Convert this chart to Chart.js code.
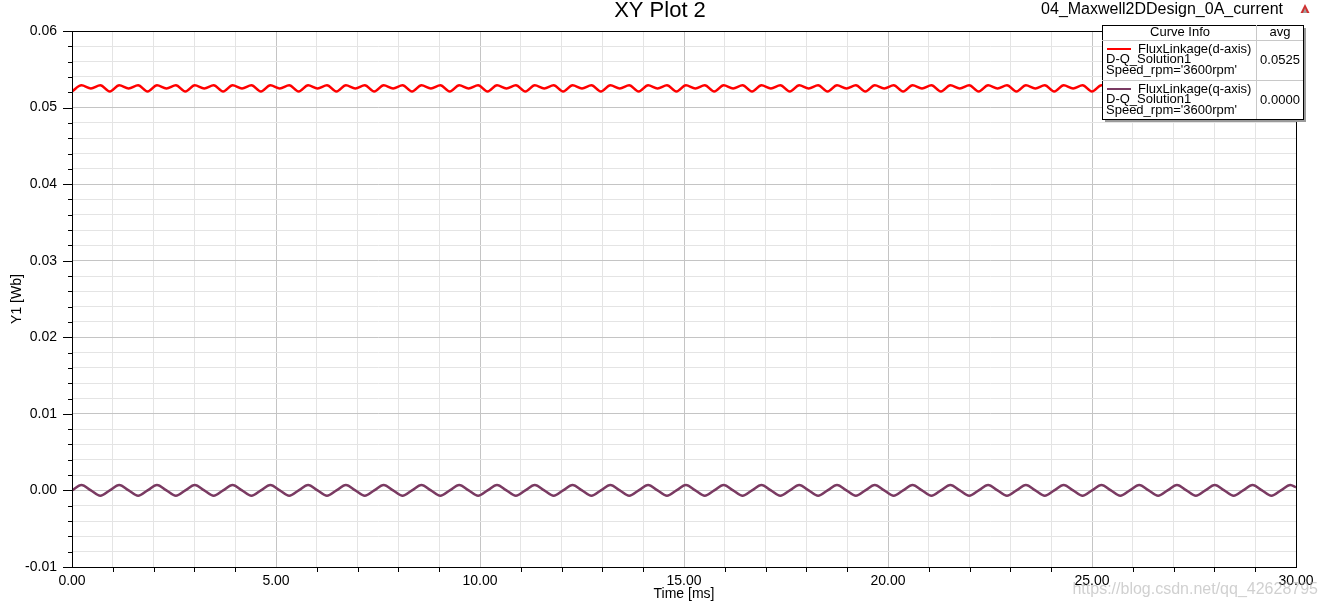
<!DOCTYPE html>
<html><head><meta charset="utf-8">
<script src="https://cdn.jsdelivr.net/npm/chart.js@4.4.0/dist/chart.umd.min.js"></script>
<style>html,body{margin:0;padding:0;background:#fff;overflow:hidden}</style>
</head><body>
<canvas id="c" width="1324" height="607"></canvas>
<script>
// ---- data ----
const timeMs = [
  0, 0.2315, 0.4630, 0.6944,
  0.9259, 1.1574, 1.3889, 1.6204,
  1.8519, 2.0833, 2.3148, 2.5463,
  2.7778, 3.0093, 3.2407, 3.4722,
  3.7037, 3.9352, 4.1667, 4.3981,
  4.6296, 4.8611, 5.0926, 5.3241,
  5.5556, 5.7870, 6.0185, 6.2500,
  6.4815, 6.7130, 6.9444, 7.1759,
  7.4074, 7.6389, 7.8704, 8.1019,
  8.3333, 8.5648, 8.7963, 9.0278,
  9.2593, 9.4907, 9.7222, 9.9537,
  10.1852, 10.4167, 10.6481, 10.8796,
  11.1111, 11.3426, 11.5741, 11.8056,
  12.0370, 12.2685, 12.5000, 12.7315,
  12.9630, 13.1944, 13.4259, 13.6574,
  13.8889, 14.1204, 14.3519, 14.5833,
  14.8148, 15.0463, 15.2778, 15.5093,
  15.7407, 15.9722, 16.2037, 16.4352,
  16.6667, 16.8981, 17.1296, 17.3611,
  17.5926, 17.8241, 18.0556, 18.2870,
  18.5185, 18.7500, 18.9815, 19.2130,
  19.4444, 19.6759, 19.9074, 20.1389,
  20.3704, 20.6019, 20.8333, 21.0648,
  21.2963, 21.5278, 21.7593, 21.9907,
  22.2222, 22.4537, 22.6852, 22.9167,
  23.1481, 23.3796, 23.6111, 23.8426,
  24.0741, 24.3056, 24.5370, 24.7685,
  25.0000, 25.2315, 25.4630, 25.6944,
  25.9259, 26.1574, 26.3889, 26.6204,
  26.8519, 27.0833, 27.3148, 27.5463,
  27.7778, 28.0093, 28.2407, 28.4722,
  28.7037, 28.9352, 29.1667, 29.3981,
  29.6296, 29.8611, 30.0000
];
const fluxD = [
  0.0521, 0.0529, 0.0525, 0.0529,
  0.0521, 0.0529, 0.0525, 0.0529,
  0.0521, 0.0529, 0.0525, 0.0529,
  0.0521, 0.0529, 0.0525, 0.0529,
  0.0521, 0.0529, 0.0525, 0.0529,
  0.0521, 0.0529, 0.0525, 0.0529,
  0.0521, 0.0529, 0.0525, 0.0529,
  0.0521, 0.0529, 0.0525, 0.0529,
  0.0521, 0.0529, 0.0525, 0.0529,
  0.0521, 0.0529, 0.0525, 0.0529,
  0.0521, 0.0529, 0.0525, 0.0529,
  0.0521, 0.0529, 0.0525, 0.0529,
  0.0521, 0.0529, 0.0525, 0.0529,
  0.0521, 0.0529, 0.0525, 0.0529,
  0.0521, 0.0529, 0.0525, 0.0529,
  0.0521, 0.0529, 0.0525, 0.0529,
  0.0521, 0.0529, 0.0525, 0.0529,
  0.0521, 0.0529, 0.0525, 0.0529,
  0.0521, 0.0529, 0.0525, 0.0529,
  0.0521, 0.0529, 0.0525, 0.0529,
  0.0521, 0.0529, 0.0525, 0.0529,
  0.0521, 0.0529, 0.0525, 0.0529,
  0.0521, 0.0529, 0.0525, 0.0529,
  0.0521, 0.0529, 0.0525, 0.0529,
  0.0521, 0.0529, 0.0525, 0.0529,
  0.0521, 0.0529, 0.0525, 0.0529,
  0.0521, 0.0529, 0.0525, 0.0529,
  0.0521, 0.0529, 0.0525, 0.0529,
  0.0521, 0.0529, 0.0525, 0.0529,
  0.0521, 0.0529, 0.0525, 0.0529,
  0.0521, 0.0529, 0.0525, 0.0529,
  0.0521, 0.0529, 0.0525, 0.0529,
  0.0521, 0.0529, 0.0527
];
const fluxQ = [
  0, 0.0007, 0, -0.0007,
  0, 0.0007, 0, -0.0007,
  0, 0.0007, 0, -0.0007,
  0, 0.0007, 0, -0.0007,
  0, 0.0007, 0, -0.0007,
  0, 0.0007, 0, -0.0007,
  0, 0.0007, 0, -0.0007,
  0, 0.0007, 0, -0.0007,
  0, 0.0007, 0, -0.0007,
  0, 0.0007, 0, -0.0007,
  0, 0.0007, 0, -0.0007,
  0, 0.0007, 0, -0.0007,
  0, 0.0007, 0, -0.0007,
  0, 0.0007, 0, -0.0007,
  0, 0.0007, 0, -0.0007,
  0, 0.0007, 0, -0.0007,
  0, 0.0007, 0, -0.0007,
  0, 0.0007, 0, -0.0007,
  0, 0.0007, 0, -0.0007,
  0, 0.0007, 0, -0.0007,
  0, 0.0007, 0, -0.0007,
  0, 0.0007, 0, -0.0007,
  0, 0.0007, 0, -0.0007,
  0, 0.0007, 0, -0.0007,
  0, 0.0007, 0, -0.0007,
  0, 0.0007, 0, -0.0007,
  0, 0.0007, 0, -0.0007,
  0, 0.0007, 0, -0.0007,
  0, 0.0007, 0, -0.0007,
  0, 0.0007, 0, -0.0007,
  0, 0.0007, 0, -0.0007,
  0, 0.0007, 0, -0.0007,
  0, 0.0007, 0.0004
];
const seriesNames = ['FluxLinkage(d-axis)', 'FluxLinkage(q-axis)'];
const seriesSolution = ['D-Q_Solution1', 'D-Q_Solution1'];
const seriesSpeed = ["Speed_rpm='3600rpm'", "Speed_rpm='3600rpm'"];
const seriesAvg = ['0.0525', '0.0000'];
const seriesColors = ['#ff0000', '#7a3a62'];
const xMajorTicks = [0, 5, 10, 15, 20, 25, 30];
const yMajorTicks = [-0.01, 0, 0.01, 0.02, 0.03, 0.04, 0.05, 0.06];
const chartTitle = 'XY Plot 2';
const designName = '04_Maxwell2DDesign_0A_current';
const xTitle = 'Time [ms]';
const yTitle = 'Y1 [Wb]';
const watermark = 'https://blog.csdn.net/qq_42628795';

const FONT = "'Liberation Sans', Arial, sans-serif";
const isMajorX = v => xMajorTicks.some(m => Math.abs(m - v) < 1e-6);
const isMajorY = v => yMajorTicks.some(m => Math.abs(m - v) < 1e-7);

const overlay = {
  id: 'overlay',
  afterDraw(chart) {
    const ctx = chart.ctx, a = chart.chartArea;
    const xs = chart.scales.x, ys = chart.scales.y;
    ctx.save();
    // frame
    ctx.strokeStyle = '#000'; ctx.lineWidth = 1;
    ctx.strokeRect(Math.round(a.left) + 0.5, Math.round(a.top) + 0.5, Math.round(a.right - a.left), Math.round(a.bottom - a.top));
    // tick marks
    ctx.beginPath();
    xs.ticks.forEach(t => {
      if (isMajorX(t.value)) return;
      const px = Math.round(xs.getPixelForValue(t.value)) + 0.5;
      ctx.moveTo(px, a.bottom); ctx.lineTo(px, a.bottom + 5);
    });
    ys.ticks.forEach(t => {
      const py = Math.round(ys.getPixelForValue(t.value)) + 0.5;
      const len = isMajorY(t.value) ? 9 : 4;
      ctx.moveTo(a.left, py); ctx.lineTo(a.left - len, py);
    });
    ctx.stroke();

    // title and design name
    ctx.fillStyle = '#000';
    ctx.textBaseline = 'middle';
    ctx.textAlign = 'center';
    ctx.font = '22px ' + FONT;
    ctx.fillText(chartTitle, 660, 11);
    ctx.textAlign = 'right';
    ctx.font = '16px ' + FONT;
    ctx.fillText(designName, 1283, 10);
    // small logo triangle
    ctx.fillStyle = '#d03030';
    ctx.beginPath(); ctx.moveTo(1305, 4); ctx.lineTo(1300.5, 13); ctx.lineTo(1309.5, 13); ctx.closePath(); ctx.fill();
    ctx.fillStyle = '#a0a0a0';
    ctx.beginPath(); ctx.moveTo(1305, 8); ctx.lineTo(1303, 13); ctx.lineTo(1307, 13); ctx.closePath(); ctx.fill();

    // legend box
    const L = 1102, T = 25, W = 201, H = 94;
    ctx.fillStyle = '#9a9a9a';
    ctx.fillRect(L + 3, T + 3, W, H);
    ctx.fillStyle = '#fff';
    ctx.fillRect(L, T, W, H);
    ctx.strokeStyle = '#000';
    ctx.strokeRect(L + 0.5, T + 0.5, W, H);
    ctx.strokeStyle = '#c8c8c8';
    ctx.beginPath();
    ctx.moveTo(L, 40.5); ctx.lineTo(L + W, 40.5);
    ctx.moveTo(L, 80.5); ctx.lineTo(L + W, 80.5);
    ctx.moveTo(1256.5, T); ctx.lineTo(1256.5, T + H);
    ctx.stroke();
    ctx.fillStyle = '#000';
    ctx.font = '13px ' + FONT;
    ctx.textAlign = 'center';
    ctx.fillText('Curve Info', 1180, 32.5);
    ctx.fillText('avg', 1280, 32.5);
    const rowY = [49, 89];
    seriesNames.forEach((n, i) => {
      const y0 = rowY[i];
      ctx.strokeStyle = seriesColors[i]; ctx.lineWidth = 2;
      ctx.beginPath(); ctx.moveTo(1107, y0); ctx.lineTo(1131, y0); ctx.stroke();
      ctx.fillStyle = '#000';
      ctx.textAlign = 'left';
      ctx.fillText(n, 1138, y0);
      ctx.fillText(seriesSolution[i], 1106, y0 + 10.5);
      ctx.fillText(seriesSpeed[i], 1106, y0 + 21);
      ctx.textAlign = 'center';
      ctx.fillText(seriesAvg[i], 1280, y0 + 11);
    });

    // watermark
    ctx.textAlign = 'right';
    ctx.font = '16px ' + FONT;
    ctx.fillStyle = 'rgba(170,170,170,0.55)';
    ctx.fillText(watermark, 1318, 590);
    ctx.restore();
  }
};

new Chart(document.getElementById('c'), {
  type: 'line',
  data: {
    datasets: [
      { label: seriesNames[0], data: timeMs.map((t, i) => ({ x: t, y: fluxD[i] })),
        borderColor: seriesColors[0], borderWidth: 2.5, pointRadius: 0, cubicInterpolationMode: 'monotone', fill: false },
      { label: seriesNames[1], data: timeMs.map((t, i) => ({ x: t, y: fluxQ[i] })),
        borderColor: seriesColors[1], borderWidth: 2.5, pointRadius: 0, cubicInterpolationMode: 'monotone', fill: false }
    ]
  },
  options: {
    responsive: false,
    animation: false,
    layout: { padding: { left: 0, right: 28, top: 31, bottom: 0 } },
    plugins: { legend: { display: false }, title: { display: false }, tooltip: { enabled: false } },
    scales: {
      x: {
        type: 'linear', min: 0, max: 30,
        afterFit: s => { s.height = 40; },
        ticks: {
          stepSize: 1, autoSkip: false, maxRotation: 0, minRotation: 0, padding: 6,
          color: '#000', font: { family: FONT, size: 14 },
          callback: v => isMajorX(v) ? Number(v).toFixed(2) : ''
        },
        grid: { drawTicks: false, lineWidth: 1, color: c => isMajorX(c.tick.value) ? '#c4c4c4' : '#e4e4e4' },
        border: { display: true, color: '#000', width: 1 },
        title: { display: true, text: xTitle, color: '#000', font: { family: FONT, size: 14 }, padding: { top: 0, bottom: 4 } }
      },
      y: {
        type: 'linear', min: -0.01, max: 0.06,
        afterFit: s => { s.width = 72; },
        ticks: {
          stepSize: 0.002, autoSkip: false, padding: 15,
          color: '#000', font: { family: FONT, size: 14 },
          callback: v => isMajorY(v) ? (Math.round(v * 100) / 100).toFixed(2) : ''
        },
        grid: { drawTicks: false, lineWidth: 1, color: c => isMajorY(c.tick.value) ? '#c4c4c4' : '#e4e4e4' },
        border: { display: true, color: '#000', width: 1 },
        title: { display: true, text: yTitle, color: '#000', font: { family: FONT, size: 14 }, padding: { top: 9, bottom: 0 } }
      }
    }
  },
  plugins: [overlay]
});
</script>
</body></html>
